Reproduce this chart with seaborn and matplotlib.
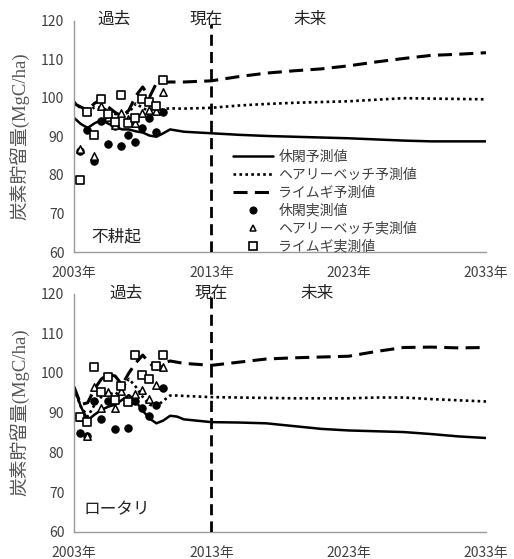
import numpy as np
import pandas as pd
import matplotlib
matplotlib.use("Agg")
import matplotlib.pyplot as plt
from matplotlib.lines import Line2D
import seaborn as sns

sns.set_theme(style="white")
plt.rcParams["font.family"] = ["Noto Sans CJK JP", "DejaVu Sans"]

# model run years (half-yearly for the past, every two years afterwards)
model_years = [2003.0, 2003.5, 2004.0, 2004.5, 2005.0, 2005.5, 2006.0, 2006.5,
               2007.0, 2007.5, 2008.0, 2008.5, 2009.0, 2009.5, 2010.0, 2010.5,
               2011, 2013, 2015, 2017, 2019, 2021, 2023, 2025, 2027, 2029, 2031, 2033]

# no-tillage plot: model predictions
notill_fallow_pred = [94.8, 93.2, 92.2, 93.4, 94.2, 93.3, 92.5, 91.8, 91.8, 91.3, 91.0, 90.2,
                      89.9, 90.8, 91.8, 91.5,
                      91.2, 90.8, 90.4, 90.1, 89.9, 89.7, 89.5, 89.2, 88.9, 88.7, 88.7, 88.7]
notill_vetch_pred = [99.0, 97.2, 96.2, 97.6, 97.3, 96.8, 95.8, 95.6, 96.2, 98.5, 97.4, 96.4,
                     96.6, 97.0, 97.3, 97.2,
                     97.2, 97.4, 98.0, 98.4, 98.7, 98.9, 99.1, 99.5, 99.9, 99.8, 99.7, 99.6]
notill_rye_pred = [98.5, 97.6, 96.8, 98.6, 99.5, 97.6, 96.2, 95.2, 96.8, 100.5, 102.8, 100.2,
                   103.8, 104.0, 104.1, 104.1,
                   104.1, 104.4, 105.5, 106.4, 107.0, 107.5, 108.3, 109.3, 110.2, 111.0, 111.3, 111.7]

# rotary plot: model predictions
rotary_fallow_pred = [96.5, 91.5, 88.1, 89.5, 90.7, 91.5, 92.0, 93.2, 94.4, 92.8, 90.5, 88.5,
                      87.3, 88.0, 89.2, 89.0,
                      88.3, 87.6, 87.5, 87.3, 86.6, 85.9, 85.5, 85.3, 85.1, 84.6, 84.0, 83.6]
rotary_vetch_pred = [96.0, 91.5, 89.0, 92.0, 94.0, 95.0, 94.5, 96.0, 98.5, 96.5, 94.0, 92.0,
                     91.5, 93.0, 94.3, 94.3,
                     94.2, 93.9, 93.8, 93.7, 93.6, 93.6, 93.6, 93.8, 93.8, 93.4, 93.1, 92.8]
rotary_rye_pred = [96.5, 92.0, 92.5, 96.0, 98.5, 99.6, 99.2, 97.0, 100.0, 102.5, 104.5, 102.5,
                   101.0, 102.5, 103.0, 102.7,
                   102.4, 101.9, 102.7, 103.5, 103.8, 104.0, 104.2, 105.4, 106.4, 106.5, 106.3, 106.4]

# sampling dates of the measurements
obs_years = [2003.45, 2003.95, 2004.45, 2004.95, 2005.45, 2005.95, 2006.45,
             2006.95, 2007.45, 2007.95, 2008.45, 2008.95, 2009.45]

notill_fallow_obs = [86.2, 91.7, 83.7, 94.1, 88.0, 92.7, 87.4, 90.4, 88.5, 92.1, 94.7, 91.1, 96.2]
notill_vetch_obs = [86.6, 96.5, 85.0, 97.8, 95.0, 93.0, 96.0, 94.5, 93.4, 96.0, 96.9, 96.5, 101.4]
notill_rye_obs = [78.7, 96.2, 90.4, 99.8, 95.8, 93.8, 100.7, 93.4, 94.7, 99.8, 98.8, 98.0, 104.5]

rotary_fallow_obs = [84.9, 84.0, 93.0, 88.3, 93.0, 85.8, 96.8, 86.2, 93.0, 91.1, 89.1, 91.9, 96.1]
rotary_vetch_obs = [89.0, 84.2, 96.4, 91.1, 95.3, 91.1, 95.5, 93.6, 94.8, 95.7, 93.3, 97.0, 101.4]
rotary_rye_obs = [89.0, 87.7, 101.4, 95.3, 98.9, 93.2, 96.7, 92.7, 104.5, 99.5, 98.4, 101.7, 104.5]

pred_names = ["休閑予測値", "ヘアリーベッチ予測値", "ライムギ予測値"]
obs_names = ["休閑実測値", "ヘアリーベッチ実測値", "ライムギ実測値"]
panel_names = ["不耕起", "ロータリ"]

x_ticks = [2003, 2013, 2023, 2033]
x_labels = ["2003年", "2013年", "2023年", "2033年"]
y_ticks = [60, 70, 80, 90, 100, 110, 120]

pred_rows = []
for panel, series in zip(panel_names,
                         [[notill_fallow_pred, notill_vetch_pred, notill_rye_pred],
                          [rotary_fallow_pred, rotary_vetch_pred, rotary_rye_pred]]):
    for name, vals in zip(pred_names, series):
        for yr, v in zip(model_years, vals):
            pred_rows.append((panel, name, yr, v))
pred_df = pd.DataFrame(pred_rows, columns=["panel", "series", "year", "value"])

obs_rows = []
for panel, series in zip(panel_names,
                         [[notill_fallow_obs, notill_vetch_obs, notill_rye_obs],
                          [rotary_fallow_obs, rotary_vetch_obs, rotary_rye_obs]]):
    for name, vals in zip(obs_names, series):
        for yr, v in zip(obs_years, vals):
            obs_rows.append((panel, name, yr, v))
obs_df = pd.DataFrame(obs_rows, columns=["panel", "series", "year", "value"])

line_styles = {
    "休閑予測値": dict(lw=1.8, dashes=None),
    "ヘアリーベッチ予測値": dict(lw=1.9, dashes=(1.0, 1.25)),
    "ライムギ予測値": dict(lw=2.2, dashes=(4.6, 2.4)),
}
marker_styles = {
    "休閑実測値": dict(marker="o", s=28, color="black", edgecolor="black", linewidth=0.8),
    "ヘアリーベッチ実測値": dict(marker="^", s=28, color="white", edgecolor="black", linewidth=1.1),
    "ライムギ実測値": dict(marker="s", s=36, color="white", edgecolor="black", linewidth=1.2),
}

W, H = 514, 559
fig = plt.figure(figsize=(W / 100, H / 100), dpi=100)
ax_top = fig.add_axes([74 / W, 1 - 252 / H, 412 / W, (252 - 20.7) / H])
ax_bot = fig.add_axes([74 / W, 1 - 531.7 / H, 412 / W, (531.7 - 293.5) / H])

spine_gray = "#9a9a9a"
text_gray = "#404040"

for ax, panel in zip([ax_top, ax_bot], panel_names):
    pdata = pred_df[pred_df.panel == panel]
    for name in pred_names:
        st = line_styles[name]
        sns.lineplot(data=pdata[pdata.series == name], x="year", y="value",
                     color="black", lw=st["lw"], estimator=None, sort=False,
                     ax=ax, legend=False)
        ln = ax.lines[-1]
        ln.set_solid_capstyle("butt")
        if st["dashes"] is not None:
            ln.set_dashes(st["dashes"])
            ln.set_dash_capstyle("butt")
    odata = obs_df[obs_df.panel == panel]
    for name in obs_names:
        ms = marker_styles[name]
        sns.scatterplot(data=odata[odata.series == name], x="year", y="value",
                        marker=ms["marker"], s=ms["s"], color=ms["color"],
                        edgecolor=ms["edgecolor"], linewidth=ms["linewidth"],
                        ax=ax, legend=False, zorder=4)

    # present-day marker
    ax.plot([2013, 2013], [60, 119.2], color="black", lw=2.0,
            dashes=(4.0, 2.2), zorder=5)

    ax.set_xlim(2003, 2033)
    ax.set_ylim(60, 120)
    ax.set_xticks(x_ticks)
    ax.set_xticklabels(x_labels)
    ax.set_yticks(y_ticks)
    ax.set_xlabel("")
    ax.set_ylabel("炭素貯留量(MgC/ha)", fontsize=13.5, color="#555555",
                  family=["Liberation Serif", "Noto Sans CJK JP"], labelpad=8)
    for side in ["top", "right"]:
        ax.spines[side].set_visible(False)
    for side in ["left", "bottom"]:
        ax.spines[side].set_color(spine_gray)
        ax.spines[side].set_linewidth(1.0)
    ax.tick_params(axis="both", direction="out", length=4, width=1.0,
                   color=spine_gray, labelsize=10, labelcolor=text_gray, pad=3)
    ax.tick_params(axis="x", pad=6)
    ax.patch.set_alpha(0)

ax_top.text(2005.9, 120.4, "過去", ha="center", va="center", fontsize=12, color="#222222", clip_on=False)
ax_top.text(2012.6, 120.4, "現在", ha="center", va="center", fontsize=12, color="#222222", clip_on=False)
ax_top.text(2020.2, 120.4, "未来", ha="center", va="center", fontsize=12, color="#222222", clip_on=False)
ax_bot.text(2006.8, 120.0, "過去", ha="center", va="center", fontsize=12, color="#222222", clip_on=False)
ax_bot.text(2013.0, 120.0, "現在", ha="center", va="center", fontsize=12, color="#222222", clip_on=False)
ax_bot.text(2020.7, 120.0, "未来", ha="center", va="center", fontsize=12, color="#222222", clip_on=False)

ax_top.text(2006.1, 63.8, panel_names[0], ha="center", va="center", fontsize=12, color="#222222")
ax_bot.text(2006.1, 65.5, panel_names[1], ha="center", va="center", fontsize=12, color="#222222")

handles = []
for name in pred_names:
    st = line_styles[name]
    h = Line2D([], [], color="black", lw=st["lw"])
    if st["dashes"] is not None:
        h.set_dashes(st["dashes"])
    handles.append(h)
for name in obs_names:
    ms = marker_styles[name]
    handles.append(Line2D([], [], ls="none", marker=ms["marker"],
                          markersize=5.0 if ms["marker"] != "s" else 5.5,
                          markerfacecolor=ms["color"], markeredgecolor="black",
                          markeredgewidth=ms["linewidth"]))
leg = ax_top.legend(handles, pred_names + obs_names, loc="upper left",
                    bbox_to_anchor=(0.385, 0.44), frameon=False, fontsize=10,
                    handlelength=2.9, handletextpad=0.4, labelspacing=0.28,
                    borderaxespad=0, borderpad=0)
for t in leg.get_texts():
    t.set_color(text_gray)

fig.savefig("out.png", dpi=100)
